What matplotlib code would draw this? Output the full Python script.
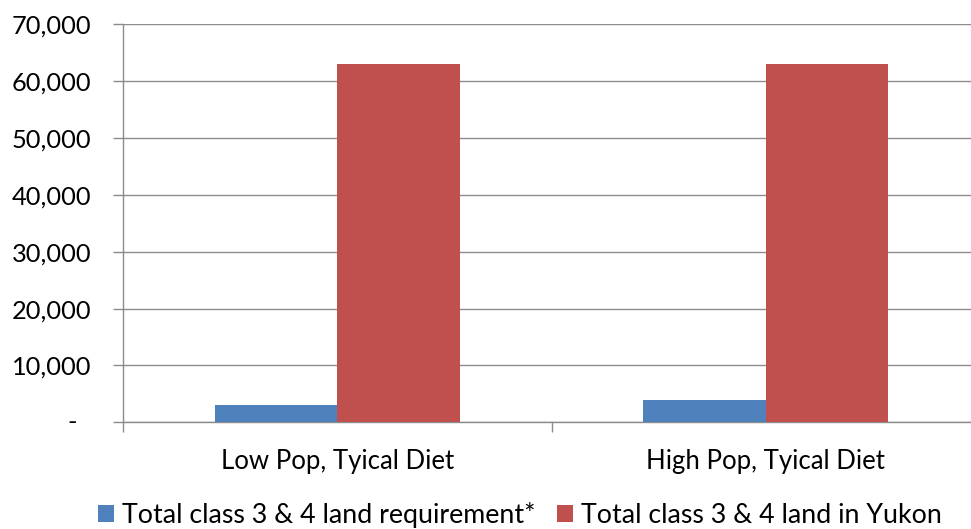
import matplotlib
matplotlib.use("Agg")
import matplotlib.pyplot as plt
import numpy as np
from matplotlib.ticker import FuncFormatter, FixedLocator

plt.rcParams['font.family'] = ['Lato', 'DejaVu Sans']

categories = ["Low Pop, Tyical Diet", "High Pop, Tyical Diet"]
series_names = ["Total class 3 & 4 land requirement*", "Total class 3 & 4 land in Yukon"]
requirement = [3000, 4000]
available = [63100, 63100]
colors = ["#4F81BD", "#C0504D"]

W, H = 971, 529
fig = plt.figure(figsize=(W / 100, H / 100), dpi=100)
ax = fig.add_axes([123 / W, 1 - 422.3 / H, (980 - 123) / W, (422.3 - 24.3) / H])

x = np.arange(len(categories))
bw = 1 / 3.5
ax.bar(x - bw / 2, requirement, bw, color=colors[0], label=series_names[0], zorder=3)
ax.bar(x + bw / 2, available, bw, color=colors[1], label=series_names[1], zorder=3)

ax.set_xlim(-0.5, len(categories) - 0.5)
ax.set_ylim(0, 70000)
ax.yaxis.set_major_locator(FixedLocator(np.arange(0, 70001, 10000)))
ax.yaxis.set_major_formatter(FuncFormatter(lambda v, p: "" if v == 0 else f"{int(v):,}"))
# accounting-style dash for zero, indented like the spreadsheet number format
ax.text(-0.054, 0, "-", transform=ax.get_yaxis_transform(), ha='right', va='center',
        fontsize=18.3)

ax.set_xticks(x)
ax.set_xticklabels(categories)
ax.set_xticks([-0.5, 0.5, 1.5], minor=True)
ax.tick_params(axis='x', which='major', length=0, pad=19, labelsize=18.5)
ax.tick_params(axis='x', which='minor', length=7, width=1, color='#8C8C8C', direction='out')
ax.tick_params(axis='y', length=7, width=1, color='#8C8C8C', pad=16, labelsize=18.3)

ax.grid(axis='y', color='#8C8C8C', linewidth=1, zorder=0)
for s in ['top', 'right']:
    ax.spines[s].set_visible(False)
for s in ['left', 'bottom']:
    ax.spines[s].set_color('#8C8C8C')
    ax.spines[s].set_linewidth(1)

fig.legend(loc='center', bbox_to_anchor=(520 / W, 1 - 515 / H), ncol=2, frameon=False,
           fontsize=19.3, handlelength=0.6, handleheight=0.6, handletextpad=0.3,
           columnspacing=0.8)

fig.savefig("out.png", dpi=100)
